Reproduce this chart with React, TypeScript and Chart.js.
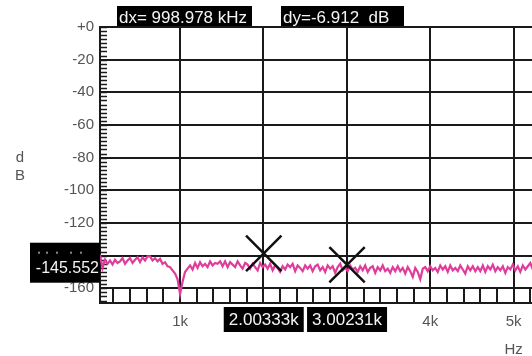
import React, { useEffect, useRef } from 'react';
import { Chart, registerables } from 'chart.js';

Chart.register(...registerables);

// ---- data ----
const freqStartK = 0.04;
const freqStepK = 0.03;
const traceDb = [
  -139.5, -147.5, -142.5, -145, -143, -145.5, -142.5, -144.5, -143.5, -141.5,
  -145, -143, -141.5, -144.5, -142.5, -141, -144, -141, -143, -140.5,
  -140.5, -143, -141.5, -143.5, -142, -145, -144, -146.5, -147, -149,
  -151, -154.5, -163.5, -156, -150, -148, -146, -148.5, -144.5, -147.5,
  -144, -146.5, -145, -147, -143.5, -146, -144.5, -145, -143.5, -146.5,
  -143.5, -147, -144, -145.5, -147, -143.5, -146, -148, -144.5, -145.5,
  -148, -145, -147, -149, -144.5, -147, -145.5, -148, -145, -149,
  -146, -147.5, -150, -146.5, -148.5, -145.5, -147, -145, -149.5, -146,
  -147.5, -149.5, -146, -148, -146, -149.5, -146.5, -145.5, -149, -147,
  -150, -146, -148, -146.5, -150.5, -147, -145, -149, -147.5, -149.5,
  -146, -148.5, -147.5, -150, -146.5, -149, -146, -150, -147.5, -146.5,
  -150.5, -147, -149, -146, -149.5, -148, -150.5, -147, -149.5, -146.5,
  -149.5, -147.5, -151, -147, -149.5, -153, -147.5, -150, -154.5, -148,
  -147, -149.5, -146.5, -149, -147.5, -150, -146, -148.5, -146.5, -150,
  -146, -149, -147.5, -149.5, -146, -148.5, -151, -146.5, -149, -146.5,
  -149.5, -147, -149.5, -146, -150, -146.5, -148.5, -145.5, -149.5, -147,
  -149, -146.5, -150.5, -147, -148.5, -145.5, -149, -146.5, -150, -146,
  -148.5, -146.5, -144.5, -148.5,
];
const markerFreqK = [2.00333, 3.00231];
const markerDb = [-138.64, -145.552];
const markerFreqLabels = ['2.00333k', '3.00231k'];
const markerLevelLabel = '-145.552';
const deltaXLabel = 'dx= 998.978 kHz';
const deltaYLabel = 'dy=-6.912  dB';
const xTickK = [1, 2, 3, 4, 5];
const yTickDb = [0, -20, -40, -60, -80, -100, -120, -140, -160];
const xMin = 0.04;
const xMax = 5.22;
const yMin = -169;
const yMax = 0;

const FONT = "'Liberation Sans', Arial, sans-serif";
const INK = '#1a1a1a';
const LABEL = '#555555';

const overlayPlugin = {
  id: 'overlay',
  beforeDatasetsDraw(chart: any) {
    const { ctx, chartArea } = chart;
    const xs = chart.scales.x;
    const ys = chart.scales.y;
    ctx.save();
    ctx.strokeStyle = INK;
    // y minor ticks every 2.5 dB
    ctx.lineWidth = 1.5;
    for (let v = -167.5; v <= 0; v += 2.5) {
      const py = Math.round(ys.getPixelForValue(v)) + 0.5;
      ctx.beginPath();
      ctx.moveTo(chartArea.left, py);
      ctx.lineTo(chartArea.left + 7, py);
      ctx.stroke();
    }
    // x minor ticks every 0.2 k between -160 line and bottom
    ctx.lineWidth = 2;
    const yTop = ys.getPixelForValue(-160);
    for (let v = 0.2; v <= xMax; v += 0.2) {
      const px = Math.round(xs.getPixelForValue(v));
      ctx.beginPath();
      ctx.moveTo(px, yTop);
      ctx.lineTo(px, chartArea.bottom);
      ctx.stroke();
    }
    ctx.restore();
  },
  afterDraw(chart: any) {
    const { ctx, chartArea } = chart;
    const xs = chart.scales.x;
    const ys = chart.scales.y;
    ctx.save();
    // y title
    ctx.fillStyle = LABEL;
    ctx.font = `15px ${FONT}`;
    ctx.textAlign = 'center';
    ctx.textBaseline = 'middle';
    const cy = (chartArea.top + chartArea.bottom) / 2;
    ctx.fillText('d', 20, cy - 7);
    ctx.fillText('B', 20, cy + 11);
    // Hz
    ctx.textBaseline = 'top';
    ctx.fillText('Hz', xs.getPixelForValue(5), chartArea.bottom + 39);

    const box = (x: number, y: number, w: number, h: number) => {
      ctx.fillStyle = '#000';
      ctx.fillRect(x, y, w, h);
    };
    ctx.font = `17px ${FONT}`;
    // top readouts
    box(chartArea.left + 17, chartArea.top - 21, 135, 20);
    box(chartArea.left + 181, chartArea.top - 21, 123, 20);
    ctx.fillStyle = '#f4f4f4';
    ctx.textAlign = 'left';
    ctx.textBaseline = 'middle';
    ctx.fillText(deltaXLabel, chartArea.left + 19, chartArea.top - 9);
    ctx.fillText(deltaYLabel, chartArea.left + 183, chartArea.top - 9);

    // level readout at left
    const ly = ys.getPixelForValue(markerDb[1]);
    box(30, ly - 22, chartArea.left - 30, 40);
    ctx.fillStyle = '#f4f4f4';
    ctx.textAlign = 'right';
    ctx.font = `16px ${FONT}`;
    ctx.fillText(markerLevelLabel, chartArea.left - 1, ly + 4);
    ctx.fillStyle = '#888';
    [38, 46, 56, 70, 80].forEach((dx) => ctx.fillRect(dx, ly - 13, 2, 2));

    // frequency readouts
    ctx.textAlign = 'center';
    ctx.font = `17px ${FONT}`;
    markerFreqK.forEach((f, i) => {
      const px = xs.getPixelForValue(f);
      box(px - 40, chartArea.bottom + 4, 80, 25);
      ctx.fillStyle = '#f4f4f4';
      ctx.fillText(markerFreqLabels[i], px, chartArea.bottom + 17);
    });
    ctx.restore();
  },
};

export default function App() {
  const ref = useRef<HTMLCanvasElement | null>(null);
  useEffect(() => {
    if (!ref.current) return;
    const chart = new Chart(ref.current, {
      type: 'line',
      data: {
        datasets: [
          {
            label: 'markers',
            data: markerFreqK.map((x, i) => ({ x, y: markerDb[i] })),
            showLine: false,
            pointStyle: 'crossRot',
            pointRadius: 25,
            pointBorderWidth: 2.5,
            borderColor: '#111',
            backgroundColor: '#111',
            clip: false as any,
          },
          {
            label: 'trace',
            data: traceDb.map((y, i) => ({ x: freqStartK + i * freqStepK, y })),
            borderColor: '#e03c9c',
            borderWidth: 2.2,
            pointRadius: 0,
            tension: 0,
          },
        ],
      },
      options: {
        animation: false,
        responsive: false,
        layout: { autoPadding: false, padding: { top: 27, left: 0, right: 0, bottom: 0 } },
        plugins: { legend: { display: false }, tooltip: { enabled: false } },
        scales: {
          x: {
            type: 'linear',
            min: xMin,
            max: xMax,
            afterBuildTicks: (s: any) => {
              s.ticks = xTickK.map((v) => ({ value: v }));
            },
            afterFit: (s: any) => {
              s.height = 53;
              s.paddingLeft = 0;
              s.paddingRight = 0;
            },
            ticks: {
              callback: (v: any) => `${v}k`,
              font: { family: FONT, size: 15 },
              color: LABEL,
              padding: 10,
              maxRotation: 0,
              autoSkip: false,
            },
            grid: { color: INK, lineWidth: 2, drawTicks: false },
            border: { display: true, color: INK, width: 2 },
          },
          y: {
            type: 'linear',
            min: yMin,
            max: yMax,
            afterBuildTicks: (s: any) => {
              s.ticks = yTickDb.map((v) => ({ value: v }));
            },
            afterFit: (s: any) => {
              s.width = 100;
              s.paddingTop = 0;
              s.paddingBottom = 0;
            },
            ticks: {
              callback: (v: any) => (v === 0 ? '+0' : String(v)),
              font: { family: FONT, size: 15 },
              color: LABEL,
              padding: 6,
              autoSkip: false,
            },
            grid: { color: INK, lineWidth: 2, drawTicks: false },
            border: { display: true, color: INK, width: 2 },
          },
        },
      },
      plugins: [overlayPlugin],
    });
    return () => chart.destroy();
  }, []);
  return (
    <div style={{ position: 'absolute', left: 0, top: 0, width: 532, height: 356, background: '#fff' }}>
      <canvas ref={ref} width={532} height={356} style={{ display: 'block' }} />
    </div>
  );
}
